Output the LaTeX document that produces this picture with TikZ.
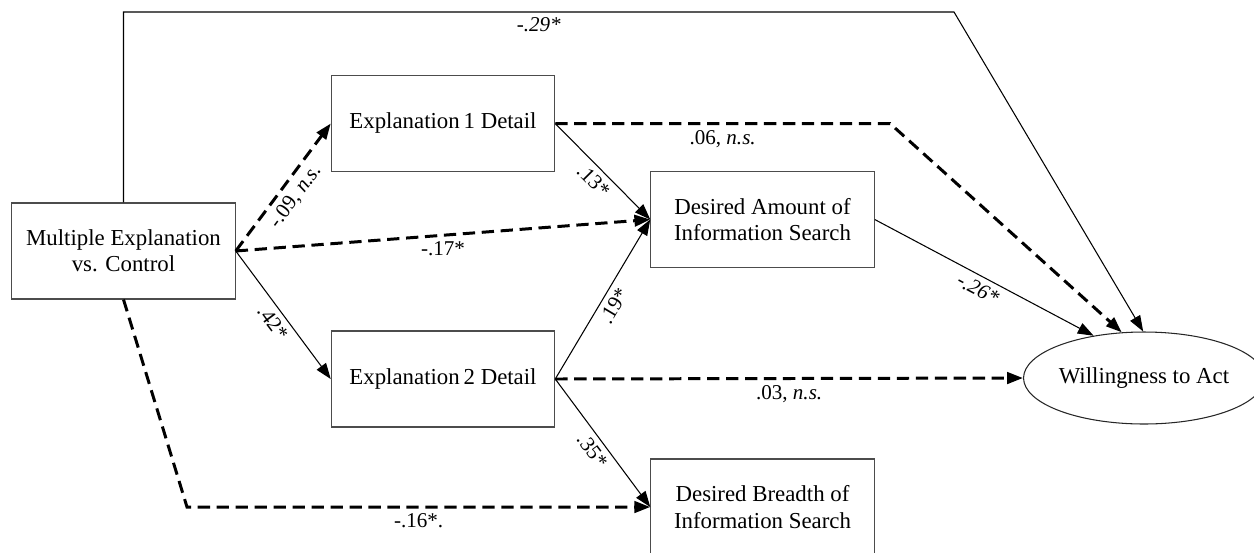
\documentclass[tikz,border=0pt]{standalone}
\usepackage{fontspec}
\setmainfont{Liberation Serif}
\usetikzlibrary{arrows.meta,shapes.geometric}
\begin{document}
\begin{tikzpicture}[x=0.02cm,y=-0.02cm,
  box/.style={draw=black!70, line width=0.6pt, minimum width=4.47cm, minimum height=1.92cm, inner sep=0pt, align=center, font=\fontsize{13}{15}\selectfont},
  oval/.style={ellipse, draw=black!85, line width=0.6pt, minimum width=4.44cm, minimum height=1.84cm, inner sep=0pt, font=\fontsize{13}{15}\selectfont},
  sig/.style={line width=0.6pt, -{Triangle[length=9pt,width=6.5pt]}},
  ns/.style={line width=1.7pt, dash pattern=on 7pt off 3.8pt, -{Triangle[length=9pt,width=6.5pt]}},
  lab/.style={font=\fontsize{12}{14}\selectfont, inner sep=3pt}
]
\useasboundingbox (0,0) rectangle (1254,552);

\node[box] (M) at (123.5,251) {Multiple Explanation\\vs. Control};
\node[box] (E1) at (443,123.5) {Explanation\,1 Detail};
\node[box] (E2) at (443,379) {Explanation\,2 Detail};
\node[box] (A) at (762.5,219.5) {Desired Amount of\\Information Search};
\node[box] (B) at (762.5,507) {Desired Breadth of\\Information Search};
\node[oval] (W) at (1144,378) {Willingness to Act};

\coordinate (t1) at (123.5,12);
\coordinate (t2) at (954,12);
\coordinate (k1) at (890,123.5);
\coordinate (k2) at (187,507);

\draw[sig] (M.north) -- (t1) -- node[lab,below]{\itshape -.29*} (t2) -- (W.91);
\draw[ns] (M.east) -- node[lab,below,sloped]{-.09, \textit{n.s.}} (E1.west);
\draw[ns] (M.east) -- node[lab,below]{-.17*} (A.west);
\draw[sig] (M.east) -- node[lab,below,sloped]{.42*} (E2.west);
\draw[ns] (M.south) -- (k2) -- node[lab,below]{-.16*.} (B.west);
\draw[sig] (E1.east) -- node[lab,below,sloped]{.13*} (A.west);
\draw[ns] (E1.east) -- node[lab,below]{.06, \textit{n.s.}} (k1) -- (W.116);
\draw[sig] (E2.east) -- node[lab,below,sloped]{.19*} (A.west);
\draw[ns] (E2.east) -- node[lab,below]{.03, \textit{n.s.}} (W.west);
\draw[sig] (E2.east) -- node[lab,below,sloped]{.35*} (B.west);
\draw[sig] (A.east) -- node[lab,below,sloped]{\itshape -.26*} (W.140);
\end{tikzpicture}
\end{document}
